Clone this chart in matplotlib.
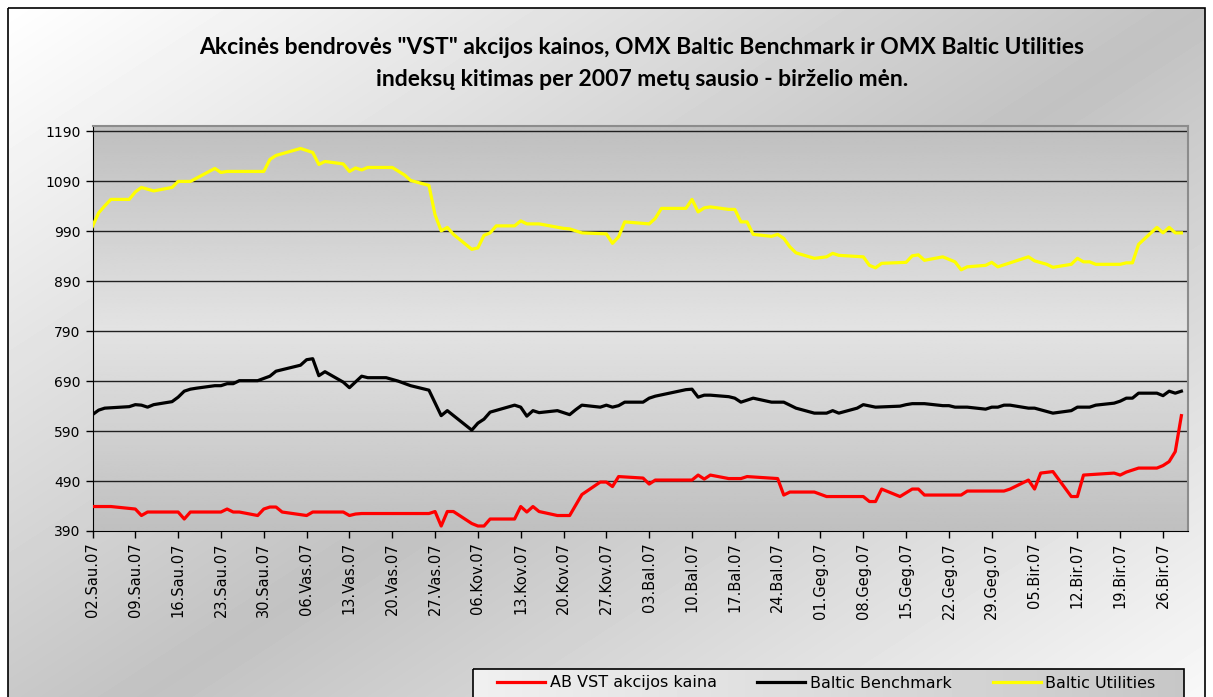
import numpy as np
import matplotlib.pyplot as plt
from matplotlib.patches import Rectangle

# x = days since 2007-01-02
tick_labels = ["02.Sau.07", "09.Sau.07", "16.Sau.07", "23.Sau.07", "30.Sau.07",
               "06.Vas.07", "13.Vas.07", "20.Vas.07", "27.Vas.07",
               "06.Kov.07", "13.Kov.07", "20.Kov.07", "27.Kov.07",
               "03.Bal.07", "10.Bal.07", "17.Bal.07", "24.Bal.07",
               "01.Geg.07", "08.Geg.07", "15.Geg.07", "22.Geg.07", "29.Geg.07",
               "05.Bir.07", "12.Bir.07", "19.Bir.07", "26.Bir.07"]

vst_days = [0, 3, 7, 8, 9, 14, 15, 16, 21, 22, 23, 24, 27, 28, 29, 30, 31, 35, 36,
            41, 42, 43, 44, 55, 56, 57, 58, 59, 62, 63, 64, 65, 69, 70, 71, 72, 73,
            76, 78, 80, 83, 84, 85, 86, 90, 91, 92, 98, 99, 100, 101, 104, 106, 107,
            112, 113, 114, 118, 120, 126, 127, 128, 129, 132, 134, 135, 136, 142,
            143, 149, 150, 153, 154, 155, 157, 160, 161, 162, 167, 168, 169, 171,
            174, 175, 176, 177, 178]
vst = [439, 439, 434, 421, 428, 428, 414, 428, 428, 434, 428, 428, 421, 434, 438,
       438, 428, 421, 428, 428, 421, 424, 425, 425, 429, 400, 429, 429, 405, 400,
       400, 414, 414, 439, 428, 439, 429, 421, 421, 463, 488, 488, 479, 499, 496,
       484, 492, 492, 502, 494, 502, 495, 495, 499, 495, 462, 468, 468, 459, 459,
       449, 449, 474, 459, 474, 474, 462, 462, 470, 470, 474, 492, 474, 506, 509,
       459, 459, 502, 506, 502, 508, 516, 516, 521, 529, 549, 621]

bench_days = [0, 1, 2, 6, 7, 8, 9, 10, 13, 14, 15, 16, 17, 20, 21, 22, 23, 24, 27,
              29, 30, 34, 35, 36, 37, 38, 41, 42, 44, 45, 48, 50, 52, 55, 57, 58,
              62, 63, 64, 65, 69, 70, 71, 72, 73, 76, 78, 79, 80, 83, 84, 85, 86,
              87, 90, 91, 92, 97, 98, 99, 100, 101, 104, 105, 106, 108, 111, 113,
              115, 118, 120, 121, 122, 125, 126, 128, 132, 133, 134, 136, 139, 140,
              141, 143, 146, 147, 148, 149, 150, 153, 154, 157, 160, 161, 163, 164,
              167, 168, 169, 170, 171, 174, 175, 176, 177, 178]
bench = [623, 632, 636, 639, 643, 642, 638, 643, 649, 658, 670, 674, 676, 681, 681,
         685, 685, 691, 691, 700, 710, 722, 733, 735, 701, 709, 688, 677, 700, 697,
         697, 690, 681, 672, 621, 631, 592, 606, 614, 628, 642, 638, 620, 631, 627,
         631, 623, 633, 642, 638, 642, 638, 641, 648, 648, 656, 660, 673, 674, 658,
         662, 662, 659, 656, 648, 656, 648, 648, 636, 626, 626, 631, 626, 636, 643,
         638, 640, 643, 645, 645, 641, 641, 638, 638, 634, 638, 638, 642, 642, 636,
         636, 626, 631, 638, 638, 642, 646, 650, 656, 656, 666, 666, 661, 670, 666,
         670]

util_days = [0, 1, 2, 3, 6, 7, 8, 10, 13, 14, 16, 20, 21, 22, 28, 29, 30, 34, 36,
             37, 38, 41, 42, 43, 44, 45, 49, 51, 52, 55, 56, 57, 58, 59, 62, 63, 64,
             65, 66, 69, 70, 71, 73, 77, 78, 80, 84, 85, 86, 87, 90, 91, 92, 93, 97,
             98, 99, 100, 101, 104, 105, 106, 107, 108, 111, 112, 113, 114, 115, 118,
             120, 121, 122, 126, 127, 128, 129, 133, 134, 135, 136, 139, 141, 142,
             143, 146, 147, 148, 150, 153, 154, 156, 157, 160, 161, 162, 163, 164,
             168, 169, 170, 171, 174, 175, 176, 177, 178]
util = [1000, 1027, 1041, 1054, 1054, 1069, 1078, 1071, 1078, 1090, 1090, 1116,
        1108, 1110, 1110, 1134, 1142, 1156, 1148, 1124, 1130, 1125, 1110, 1117,
        1113, 1118, 1118, 1103, 1092, 1082, 1023, 991, 998, 984, 954, 957, 982,
        987, 1001, 1001, 1011, 1005, 1005, 996, 995, 987, 985, 966, 979, 1009,
        1006, 1005, 1016, 1036, 1036, 1054, 1029, 1037, 1039, 1034, 1034, 1009,
        1009, 984, 980, 984, 976, 959, 947, 936, 939, 946, 942, 939, 922, 917,
        926, 928, 941, 943, 932, 939, 929, 913, 919, 922, 928, 919, 927, 939, 931,
        924, 918, 924, 936, 929, 929, 924, 924, 927, 927, 964, 998, 987, 998, 987,
        987]

W, H = 1213, 697
fig = plt.figure(figsize=(W / 100, H / 100), dpi=100)
fig.patch.set_facecolor("white")

# chart area background (diagonal gradient) + border
bg = fig.add_axes([0, 0, 1, 1], zorder=-10)
bg.set_xlim(0, W)
bg.set_ylim(H, 0)
bg.axis("off")
yy, xx = np.mgrid[0:1:200j, 0:1:300j]
t = np.abs(xx + yy * 0.94 - 1)
grad = 0.76 + 0.24 * t
bg.imshow(grad, cmap="gray", vmin=0, vmax=1, extent=[8, 1205, 740, 8],
          aspect="auto", interpolation="bilinear")
bg.add_patch(Rectangle((8, 8), 1197, 740, fill=False, edgecolor="black", lw=1.2))

# legend box (gradient fill, drawn behind the legend entries)
lg = np.linspace(0.94, 0.78, 100)[None, :]
bg.imshow(np.repeat(lg, 2, axis=0), cmap="gray", vmin=0, vmax=1,
          extent=[473, 1184, 705, 669], aspect="auto", interpolation="bilinear")
bg.add_patch(Rectangle((473, 669), 711, 36, fill=False, edgecolor="black", lw=1.2))

ax = fig.add_axes([92.5 / W, 1 - 531 / H, (1187.5 - 92.5) / W, (531 - 126) / H])
ax.set_xlim(0, 179)
ax.set_ylim(390, 1201)

# plot area gradient: dark at top and bottom, light in middle
gy = np.linspace(0, 1, 200)[:, None]
pg = 0.89 - 0.14 * np.abs(gy - 0.5) * 2
ax.imshow(np.repeat(pg, 2, axis=1), cmap="gray", vmin=0, vmax=1,
          extent=[0, 179, 390, 1201], aspect="auto", zorder=0,
          interpolation="bilinear")

yticks = list(range(390, 1191, 100))
ax.set_yticks(yticks)
ax.set_yticklabels([str(v) for v in yticks], fontsize=10)
for v in yticks[1:]:
    ax.axhline(v, color="#202020", lw=1.0, zorder=1)

ax.set_xticks(range(0, 7 * len(tick_labels), 7))
ax.set_xticklabels(tick_labels, rotation=90, fontsize=10.5)
ax.tick_params(axis="both", direction="out", length=5, width=1, color="black")
ax.tick_params(axis="x", pad=3)

ax.plot(vst_days, vst, color="#ff0000", lw=2.3, label="AB VST akcijos kaina", zorder=3)
ax.plot(bench_days, bench, color="black", lw=2.3, label="Baltic Benchmark", zorder=3)
ax.plot(util_days, util, color="#ffff00", lw=2.3, label="Baltic Utilities", zorder=3)

for s in ["top", "right"]:
    ax.spines[s].set_color("#8c8c8c")
    ax.spines[s].set_linewidth(1.5)
ax.spines["left"].set_color("black")
ax.spines["bottom"].set_color("black")

fig.text(0.529, 1 - 48 / H,
         "Akcinės bendrovės \"VST\" akcijos kainos, OMX Baltic Benchmark ir OMX Baltic Utilities",
         ha="center", va="center", fontsize=16.5, fontweight="bold", family="Lato")
fig.text(0.529, 1 - 79 / H, "indeksų kitimas per 2007 metų sausio - birželio mėn.",
         ha="center", va="center", fontsize=16.5, fontweight="bold", family="Lato")

leg = fig.legend(loc="center left", bbox_to_anchor=(497 / W, 1 - 683 / H), ncol=3,
                 fontsize=11.5, frameon=False, handlelength=3.0,
                 columnspacing=2.55, borderpad=0, handletextpad=0.3,
                 borderaxespad=0)

fig.savefig("out.png", dpi=100)
